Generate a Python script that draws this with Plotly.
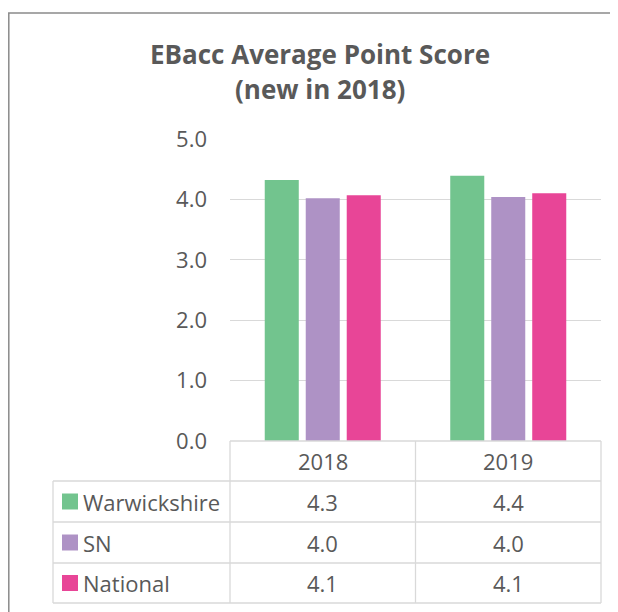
import plotly.graph_objects as go

# data
years = ['2018', '2019']
warwickshire = [4.32, 4.39]
sn = [4.02, 4.04]
national = [4.07, 4.10]
series_names = ['Warwickshire', 'SN', 'National']
series_colors = ['#72C48E', '#AE92C5', '#E84597']

# page has an 8px body margin, so the figure is drawn 8px in from the corner
OFF = 8
W, H = 618 - OFF, 612 - OFF
PL, PR, PT, PB = 230, 601, 139, 441   # plot area in page pixels
FONT = 'Open Sans'
TXT = '#595959'
GRID = '#D9D9D9'
FS = 22


def px_x(x):
    return (x - PL) / (PR - PL)


def px_y(y):
    return (PB - y) / (PB - PT)


fig = go.Figure()
for name, vals, col in zip(series_names, [warwickshire, sn, national], series_colors):
    fig.add_trace(go.Bar(x=years, y=vals, name=name,
                         marker=dict(color=col, line=dict(width=0))))

# table geometry (page pixels)
rows_y = [441, 481, 522, 563, 603]
col_x = [53, 230, 415.5, 601]

shapes = []
# outer chart border
shapes.append(dict(type='rect', xref='paper', yref='paper',
                   x0=px_x(8.8), x1=px_x(700), y0=px_y(13), y1=px_y(700),
                   line=dict(color='#8A8A8A', width=1.5), fillcolor='rgba(0,0,0,0)'))
# horizontal table lines
for i, y in enumerate(rows_y):
    x0 = col_x[1] if i == 0 else col_x[0]
    shapes.append(dict(type='line', xref='paper', yref='paper',
                       x0=px_x(x0), x1=px_x(col_x[-1]), y0=px_y(y), y1=px_y(y),
                       line=dict(color=GRID, width=1.3)))
# vertical table lines
for j, x in enumerate(col_x):
    y0 = rows_y[1] if j == 0 else rows_y[0]
    shapes.append(dict(type='line', xref='paper', yref='paper',
                       x0=px_x(x), x1=px_x(x), y0=px_y(y0), y1=px_y(rows_y[-1]),
                       line=dict(color=GRID, width=1.3)))

annotations = []
# title, one annotation per line
for txt, yc in [('EBacc Average Point Score', 54), ('(new in 2018)', 89)]:
    annotations.append(dict(text='<b>' + txt + '</b>',
                            xref='paper', yref='paper', x=px_x(319.5), y=px_y(yc),
                            xanchor='center', yanchor='middle', showarrow=False,
                            font=dict(family=FONT, size=26, color=TXT)))
# header row
for k, yr in enumerate(years):
    annotations.append(dict(text=yr, xref='x', yref='paper', x=k,
                            y=px_y((rows_y[0] + rows_y[1]) / 2),
                            xanchor='center', yanchor='middle', showarrow=False,
                            font=dict(family=FONT, size=FS, color=TXT)))
# data rows with legend keys
for i, (name, vals, col) in enumerate(zip(series_names, [warwickshire, sn, national], series_colors)):
    yc = (rows_y[i + 1] + rows_y[i + 2]) / 2
    shapes.append(dict(type='rect', xref='paper', yref='paper',
                       x0=px_x(62), x1=px_x(78), y0=px_y(yc - 8), y1=px_y(yc + 8),
                       fillcolor=col, line=dict(width=0)))
    annotations.append(dict(text=name, xref='paper', yref='paper', x=px_x(81),
                            y=px_y(yc), xanchor='left', yanchor='middle', showarrow=False,
                            font=dict(family=FONT, size=FS, color=TXT)))
    for k, v in enumerate(vals):
        annotations.append(dict(text=f'{v:.1f}', xref='x', yref='paper', x=k,
                                y=px_y(yc), xanchor='center', yanchor='middle',
                                showarrow=False,
                                font=dict(family=FONT, size=FS, color=TXT)))

fig.update_layout(
    width=W, height=H,
    margin=dict(l=PL - OFF, r=W - (PR - OFF), t=PT - OFF, b=H - (PB - OFF), pad=0),
    paper_bgcolor='white', plot_bgcolor='white',
    showlegend=False,
    barmode='group', bargap=0.337, bargroupgap=0.17,
    font=dict(family=FONT, color=TXT),
    xaxis=dict(type='category', range=[-0.5, 1.5], showticklabels=False,
               showgrid=False, zeroline=False, showline=False, ticks=''),
    yaxis=dict(range=[0, 5], dtick=1, tickformat='.1f', showgrid=True,
               gridcolor=GRID, gridwidth=1.3, zeroline=False, showline=False,
               ticks='', ticklabelstandoff=22,
               tickfont=dict(family=FONT, size=FS, color=TXT)),
    shapes=shapes, annotations=annotations,
)

fig.write_html('out.html')
